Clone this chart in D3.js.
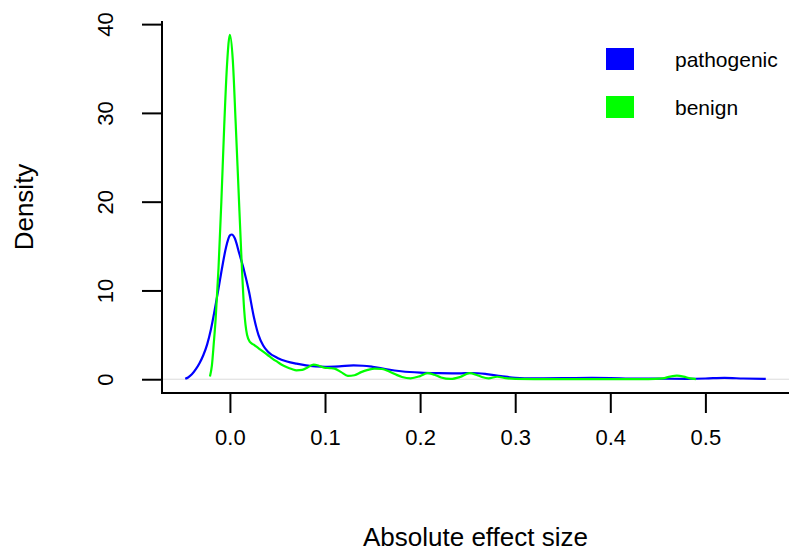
<!DOCTYPE html>
<html>
<head>
<meta charset="utf-8">
<script src="https://cdn.jsdelivr.net/npm/d3@7"></script>
<style>
  html, body { margin: 0; padding: 0; background: #fff; }
  svg { display: block; font-family: "Liberation Sans", Arial, Helvetica, sans-serif; }
</style>
</head>
<body>
<svg id="chart" width="790" height="552"></svg>
<script>
// ---- data ----
const seriesNames = ["pathogenic", "benign"];
const seriesColors = ["#0000FF", "#00FF00"];

const pathogenicX = [-0.047,-0.044,-0.040,-0.036,-0.032,-0.028,-0.024,-0.020,-0.016,-0.012,-0.008,-0.004,0.000,0.002,0.005,0.010,0.015,0.020,0.025,0.030,0.035,0.040,0.050,0.060,0.070,0.080,0.090,0.100,0.115,0.130,0.140,0.150,0.165,0.180,0.200,0.220,0.240,0.255,0.270,0.285,0.300,0.320,0.350,0.380,0.400,0.420,0.450,0.480,0.500,0.520,0.540,0.5635];
const pathogenicY = [0.05,0.2,0.55,1.1,1.8,2.7,3.9,5.6,7.8,10.2,12.7,14.9,16.2,16.3,15.9,14.1,12.2,9.9,7.1,5.0,3.8,3.1,2.4,2.0,1.75,1.55,1.45,1.40,1.45,1.55,1.52,1.40,1.12,0.90,0.74,0.68,0.66,0.70,0.58,0.36,0.16,0.10,0.12,0.15,0.14,0.08,0.06,0.05,0.08,0.15,0.08,0.03];

const benignX = [-0.021,-0.019,-0.017,-0.015,-0.012,-0.009,-0.006,-0.003,0.000,0.003,0.006,0.009,0.012,0.015,0.018,0.021,0.025,0.030,0.035,0.040,0.045,0.050,0.055,0.060,0.065,0.070,0.076,0.082,0.088,0.093,0.099,0.105,0.110,0.117,0.124,0.131,0.138,0.145,0.152,0.160,0.167,0.174,0.181,0.190,0.200,0.208,0.215,0.222,0.232,0.242,0.252,0.259,0.265,0.272,0.281,0.290,0.300,0.320,0.350,0.400,0.440,0.455,0.463,0.470,0.477,0.484,0.490];
const benignY = [0.3,1.5,4.0,6.8,12.5,20.0,28.5,35.5,38.8,36.0,29.0,21.5,14.0,7.8,5.0,4.2,3.9,3.5,3.1,2.7,2.3,1.95,1.6,1.35,1.15,1.0,1.05,1.35,1.65,1.55,1.3,1.25,1.2,0.8,0.38,0.45,0.8,1.05,1.2,1.15,0.9,0.55,0.25,0.1,0.35,0.68,0.5,0.2,0.03,0.25,0.68,0.5,0.25,0.1,0.28,0.12,0.03,0.01,0.01,0.01,0.02,0.1,0.3,0.4,0.3,0.1,0.02];

const xTicks = [0.0, 0.1, 0.2, 0.3, 0.4, 0.5];
const xTickLabels = ["0.0", "0.1", "0.2", "0.3", "0.4", "0.5"];
const yTicks = [0, 10, 20, 30, 40];
const yTickLabels = ["0", "10", "20", "30", "40"];
const xTitle = "Absolute effect size";
const yTitle = "Density";

// ---- layout ----
const svg = d3.select("#chart");
const padL = 162, padR = 789, padT = 21, padB = 393;

const allX = pathogenicX.concat(benignX);
const xMin = d3.min(allX), xMax = d3.max(allX);
const xPad = 0.04 * (xMax - xMin);
const yMax = d3.max(pathogenicY.concat(benignY));
const yPad = 0.04 * yMax;

const x = d3.scaleLinear().domain([xMin - xPad, xMax + xPad]).range([padL, padR]);
const y = d3.scaleLinear().domain([-yPad, yMax + yPad]).range([padB, padT]);

// zero line
svg.append("line")
  .attr("x1", padL).attr("x2", padR)
  .attr("y1", y(0)).attr("y2", y(0))
  .attr("stroke", "#dcdcdc").attr("stroke-width", 1);

// curves
const line = d3.line().x(d => x(d[0])).y(d => y(d[1])).curve(d3.curveMonotoneX);
const seriesData = [
  d3.zip(pathogenicX, pathogenicY),
  d3.zip(benignX, benignY)
];
seriesData.forEach((pts, i) => {
  svg.append("path")
    .datum(pts)
    .attr("d", line)
    .attr("fill", "none")
    .attr("stroke", seriesColors[i])
    .attr("stroke-width", 2.2)
    .attr("stroke-linejoin", "round");
});

// L-shaped box
svg.append("path")
  .attr("d", `M${padL},${padT}V${padB}H${padR}`)
  .attr("fill", "none").attr("stroke", "#000").attr("stroke-width", 2);

// x axis
const xAxis = d3.axisBottom(x).tickValues(xTicks)
  .tickFormat((d, i) => xTickLabels[i]).tickSize(20).tickSizeOuter(0).tickPadding(0);
const gx = svg.append("g").attr("transform", `translate(0,${padB})`).call(xAxis);
gx.select(".domain").remove();
gx.selectAll(".tick line").attr("stroke", "#000").attr("stroke-width", 2);
gx.selectAll(".tick text")
  .attr("y", 52).attr("dy", null)
  .attr("fill", "#000")
  .style("font-size", "22px")
  .style("font-family", "'Liberation Sans', Arial, sans-serif");

// y axis
const yAxis = d3.axisLeft(y).tickValues(yTicks)
  .tickFormat((d, i) => yTickLabels[i]).tickSize(20).tickSizeOuter(0).tickPadding(0);
const gy = svg.append("g").attr("transform", `translate(${padL},0)`).call(yAxis);
gy.select(".domain").remove();
gy.selectAll(".tick line").attr("stroke", "#000").attr("stroke-width", 2);
gy.selectAll(".tick text")
  .attr("x", null).attr("dy", null)
  .attr("text-anchor", "middle")
  .attr("transform", "translate(-49,0) rotate(-90)")
  .attr("fill", "#000")
  .style("font-size", "22px")
  .style("font-family", "'Liberation Sans', Arial, sans-serif");

// axis titles
svg.append("text")
  .attr("x", (padL + padR) / 2).attr("y", 546)
  .attr("text-anchor", "middle")
  .style("font-size", "26px")
  .text(xTitle);
svg.append("text")
  .attr("transform", `translate(33,${(padT + padB) / 2}) rotate(-90)`)
  .attr("text-anchor", "middle")
  .style("font-size", "26px")
  .text(yTitle);

// legend
const legend = svg.append("g");
seriesNames.forEach((name, i) => {
  const cy = 59 + i * 48;
  legend.append("rect")
    .attr("x", 606).attr("y", cy - 11)
    .attr("width", 28).attr("height", 22)
    .attr("fill", seriesColors[i]);
  legend.append("text")
    .attr("x", 675).attr("y", cy + 8)
    .style("font-size", "21px")
    .text(name);
});
</script>
</body>
</html>
